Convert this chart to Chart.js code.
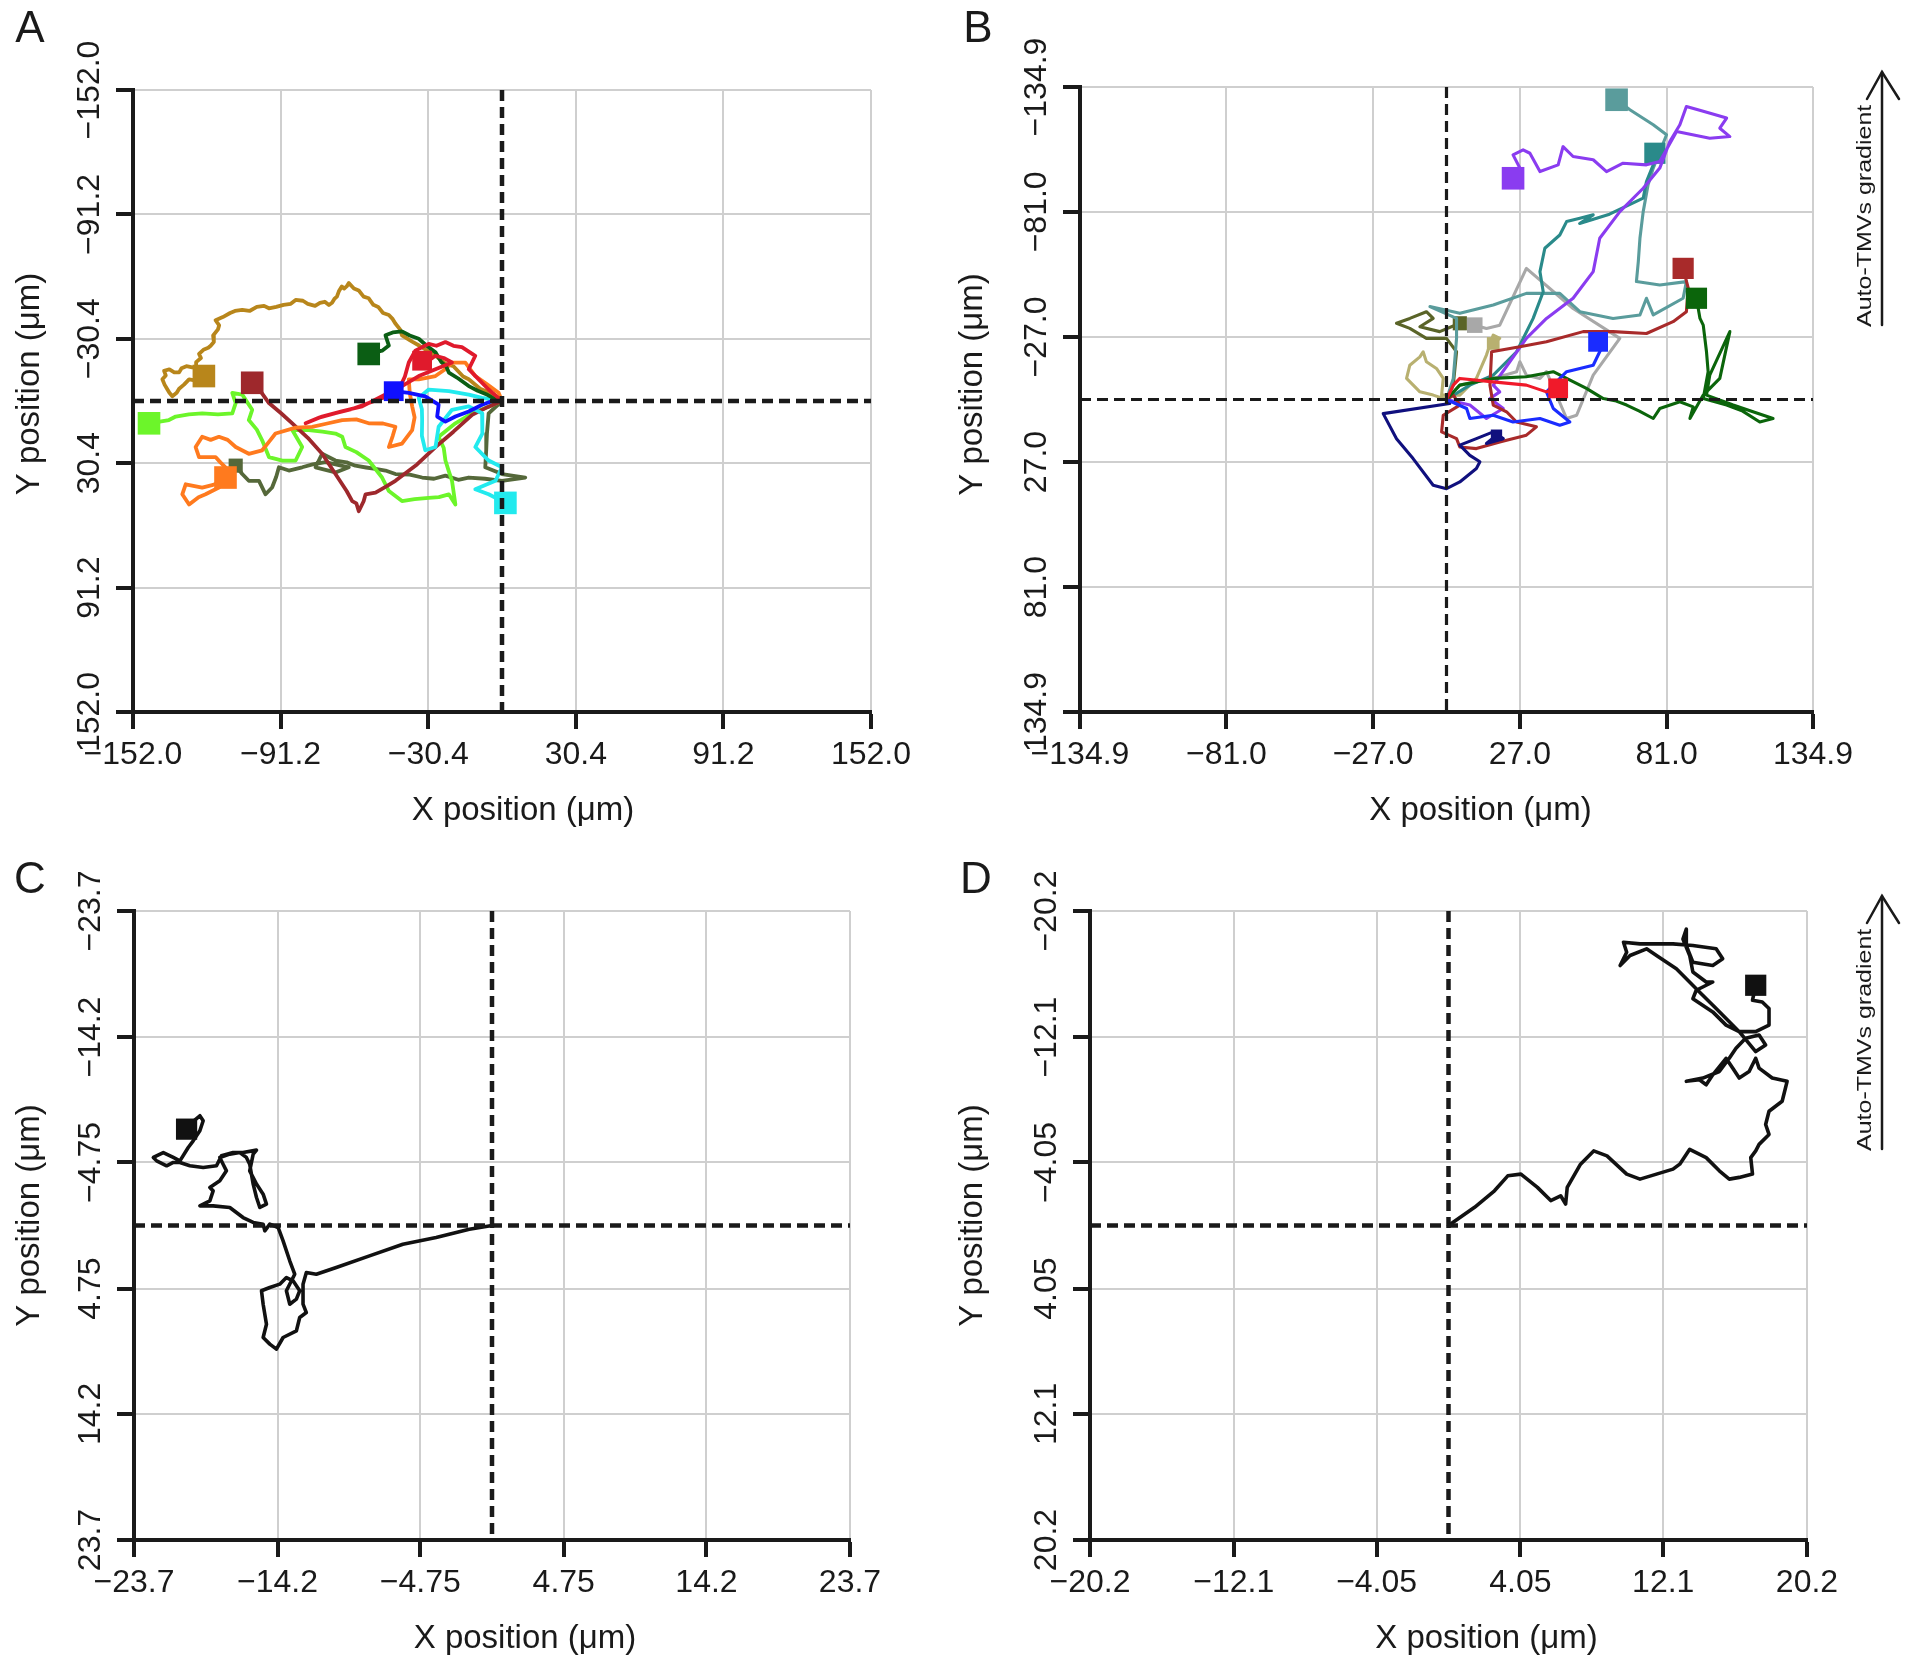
<!DOCTYPE html>
<html><head><meta charset="utf-8">
<script src="https://cdn.jsdelivr.net/npm/chart.js@4.4.1/dist/chart.umd.min.js"></script>
<style>
html,body{margin:0;padding:0;background:#fff;width:1913px;height:1670px;overflow:hidden;}
canvas{position:absolute;}
</style></head><body>
<canvas id="cA" width="940" height="860" style="left:0px;top:0px"></canvas>
<canvas id="cB" width="973" height="860" style="left:940px;top:0px"></canvas>
<canvas id="cC" width="940" height="840" style="left:0px;top:830px"></canvas>
<canvas id="cD" width="973" height="840" style="left:940px;top:830px"></canvas>
<script>
// ---------- tick values / labels ----------
const A_TICKS = [-152, -91.2, -30.4, 30.4, 91.2, 152];
const A_LABELS = ['\u2212152.0', '\u221291.2', '\u221230.4', '30.4', '91.2', '152.0'];
const B_TICKS = [-134.9, -81, -27, 27, 81, 134.9];
const B_LABELS = ['\u2212134.9', '\u221281.0', '\u221227.0', '27.0', '81.0', '134.9'];
const C_TICKS = [-23.7, -14.2, -4.75, 4.75, 14.2, 23.7];
const C_LABELS = ['\u221223.7', '\u221214.2', '\u22124.75', '4.75', '14.2', '23.7'];
const D_TICKS = [-20.2, -12.1, -4.05, 4.05, 12.1, 20.2];
const D_LABELS = ['\u221220.2', '\u221212.1', '\u22124.05', '4.05', '12.1', '20.2'];
const X_TITLE = 'X position (\u03bcm)';
const Y_TITLE = 'Y position (\u03bcm)';
const GRADIENT_LABEL = 'Auto-TMVs gradient';

// ---------- panel A trajectories [x, y] (um) ----------
const A_gold = [[0,0],[-3,-3],[-5,-4],[-9,-6],[-13.7,-10.6],[-16,-12],[-20,-17],[-23,-18],[-27.4,-22.1],[-30,-24],[-34,-27],[-37,-29],[-41.2,-32.1],[-42,-35],[-44,-38],[-45,-40],[-46.6,-42],[-49,-43],[-51,-46],[-53,-47],[-54.9,-50.2],[-57,-51],[-59,-54],[-61,-55],[-63.1,-57.7],[-64,-56],[-65,-55],[-66,-56],[-67.2,-53.6],[-68,-51],[-69,-50],[-70,-48],[-71.3,-46.9],[-73,-48.5],[-75,-48],[-77,-46.5],[-80,-47.5],[-82,-49],[-85,-49.4],[-87,-47.5],[-90,-47],[-93,-46],[-96,-45.3],[-98,-46.5],[-101,-46],[-104,-44],[-107,-44.5],[-110,-44],[-112,-43],[-115,-41],[-118,-39.5],[-116.5,-37],[-117,-35],[-119,-32],[-118.7,-28.8],[-120,-27],[-121,-26],[-123,-25],[-124.8,-23],[-124,-21],[-126,-19],[-126,-17],[-127.6,-16.4],[-130,-17],[-132,-16],[-133,-14],[-135,-14],[-137,-15.5],[-139.2,-14.7],[-138.5,-12.5],[-139.9,-10.6],[-139,-8],[-138,-6],[-137,-4],[-135.8,-2.3],[-134,-4],[-133,-6],[-131,-8],[-128.9,-10.6],[-126,-10],[-122.8,-12.2]];
const A_maroon = [[0,0],[-6,3],[-12.3,6.8],[-20,15],[-27.4,22.5],[-35,31],[-43.9,39],[-48,42],[-52.1,44.8],[-56.2,45.6],[-57,49],[-59,53.9],[-60,50],[-61.7,48.9],[-64,44],[-68.6,35.7],[-74.1,25.8],[-80,18],[-86.4,10.9],[-91,6],[-96,1],[-99,-4],[-102.9,-8.9]];
const A_dkgreen = [[0,0],[-3,-1],[-6,-3],[-10,-5],[-13.7,-7.3],[-18,-11],[-21.9,-13.9],[-23,-17],[-25,-19],[-27.4,-23.8],[-31,-27],[-34.3,-30.4],[-38,-32],[-41.2,-34],[-45,-33.5],[-48,-32.1],[-46.6,-27.1],[-49.4,-24.6],[-54.9,-23]];
const A_crimson = [[0,0],[-2,-2],[-5.5,-5.6],[-9.6,-10.6],[-13.7,-15.5],[-11,-22.1],[-16.5,-26.3],[-20,-27],[-23.3,-28.8],[-27,-27],[-30.2,-27.9],[-35.7,-24.6],[-38.4,-18.8],[-40,-12],[-42.5,-5.6],[-48,-2],[-54.9,1],[-62,4],[-68.6,6],[-75,8],[-80.9,10.9],[-74.1,7.6],[-66,5],[-57.6,2.6],[-50,-2],[-41.2,-7.3],[-34.3,-12.2],[-27.4,-15.5],[-20.6,-18.8],[-24,-21],[-27.4,-22.1],[-30,-20],[-32.9,-19.7]];
const A_orange = [[0,0],[-1.4,-4],[-6,-8],[-11,-12.2],[-15.1,-18.8],[-20.6,-18.8],[-24,-15],[-27.4,-12.2],[-34.3,-10.6],[-38.4,-10.6],[-38,-4],[-37,2.6],[-36,8],[-37,14.2],[-41.2,20.8],[-46.6,22.5],[-45,17],[-43.9,12.6],[-49,11],[-54.9,10.9],[-60,9],[-65.8,9.3],[-72,11],[-78.2,12.6],[-85,13],[-93.3,15.9],[-96,20],[-98.8,24.1],[-104.3,25.8],[-109.7,22.5],[-113,19],[-116.6,17.5],[-120,19],[-123.5,17.5],[-126.2,22.5],[-124.8,27.4],[-118,27.4],[-116,30],[-113.9,32.4],[-115.2,39],[-119,41],[-123.5,42.3],[-130.3,40.7],[-131.7,45.6],[-128.9,50.6],[-125,47],[-122.1,45.6],[-116.6,42.3],[-113.9,37.4]];
const A_blue = [[0,0],[-4,0],[-8.2,1.8],[-13.7,5.1],[-19.2,7.6],[-23.3,10.1],[-26.7,7.6],[-26.1,1.8],[-31.6,-2.3],[-38.4,-4],[-44.6,-4.8]];
const A_cyan = [[0,0],[-8.2,-1.5],[-13.7,-3.1],[-21.9,-4.8],[-30.2,-5.6],[-34.3,-1.5],[-33,4],[-32.9,9.3],[-33,17],[-31.6,24.1],[-27.4,22.5],[-26.1,12.6],[-20.6,4.3],[-13.7,2.6],[-8.2,6],[-8,11],[-8.2,15.9],[-11,22.5],[-5.5,29.1],[0,32.4],[-2.7,39],[-11,43.1],[-5.5,45.6],[1.4,49.8]];
const A_lime = [[0,0],[-6,3],[-12.3,6],[-19.2,10.9],[-26.1,17.5],[-24,23],[-23.3,29.1],[-22,34],[-20.6,39],[-19.2,50.6],[-21.9,45.6],[-26,47],[-30.2,47.3],[-36,48],[-41.2,48.9],[-46.6,44],[-49.4,37.4],[-54.9,29.1],[-60,25],[-64.5,22.5],[-65.8,17.5],[-68.6,15.9],[-74,15],[-79.6,14.2],[-86.4,14.2],[-82.3,22.5],[-85,29.1],[-90.5,29.1],[-96,27.4],[-98.8,19.2],[-101,14],[-104.3,9.3],[-102.9,4.3],[-107,-3.1],[-111.1,-4],[-109.7,1],[-111.1,6],[-117,6.5],[-123.5,6],[-129,6.5],[-134.4,7.6],[-137.2,9.3],[-145.4,10.9]];
const A_olive = [[0,0],[-5.5,6],[-6.2,15.9],[-6.5,24],[-6.9,32.4],[0,35.7],[9.6,37.4],[0,39],[-7,38],[-13.7,37.4],[-18,38.5],[-23.3,36.5],[-28,38],[-32.9,37.4],[-38,36],[-43.9,35.7],[-48,34],[-52.1,33.2],[-56,32.5],[-60.4,31.6],[-64,30],[-68.6,29.1],[-74.1,25.8],[-76.8,32.4],[-68.6,34.9],[-63.1,32.4],[-72.7,29.9],[-78,31],[-82.3,32.4],[-87.8,34],[-91.9,32.4],[-93,37],[-94.7,42.3],[-97.4,45.6],[-100.1,39],[-104.3,39],[-107,35.7],[-109.7,31.6]];

// ---------- panel B trajectories ----------
const B_teal1 = [[0,0],[2.5,-9.1],[3.7,-26.4],[3.7,-35],[-6.1,-40.1],[4.9,-37.2],[17.2,-40.8],[29.4,-45.8],[41.7,-45.8],[49.1,-37.9],[61.3,-35],[71.2,-36.5],[73.6,-43.7],[76.1,-36.5],[87.1,-43.7],[88.3,-50.9],[78.5,-49.4],[69.9,-50.9],[70.6,-59.5],[71.2,-69.6],[72.4,-81.1],[74.2,-92.7],[76.1,-99.9],[81,-114.3],[76.1,-118.6],[67.5,-125.1],[62.6,-129.4]];
const B_teal2 = [[0,0],[8.6,-6.2],[17.2,-10.5],[25.8,-20.6],[31.9,-35],[35.6,-46.5],[34.4,-55.2],[36.2,-65.3],[41.7,-71],[44.2,-76.8],[49.1,-78.2],[54,-79.7],[49,-76],[60,-80],[72.4,-86.9],[73.6,-94.1],[76.1,-101.3],[76.7,-106.3]];
const B_purple = [[0,0],[8.6,2.4],[14.7,8.2],[20.9,3.9],[16,-0.4],[19.6,-3.3],[17.2,-6.2],[23.3,-16.3],[29.4,-26.4],[36.8,-35],[46.6,-43.7],[54,-55.2],[56.4,-69.6],[63.8,-81.1],[72.4,-91.2],[78.5,-99.9],[82.2,-111.4],[85.9,-118.6],[88.3,-126.5],[94.5,-124.4],[103.1,-121.5],[100.6,-117.1],[104.3,-113.5],[96.9,-112.8],[84.7,-115.7],[78.5,-102.7],[73.6,-101.3],[65,-102],[58.9,-98.4],[54,-103.5],[46.6,-104.9],[42.9,-109.2],[41.1,-101.3],[34.4,-98.4],[30.7,-106.3],[28.2,-107.8],[24.5,-105.6],[27,-99.9],[24.5,-95.5]];
const B_darkred = [[0,0],[2.5,-1.9],[4.9,2.4],[-1.2,6.8],[-1.8,14],[3.7,16.9],[4.9,20.5],[11,21.2],[19.6,18.3],[29.4,15.4],[33.1,11.8],[25.8,9.7],[22.1,5.3],[17.2,2.4],[16,-6.2],[16.6,-20.6],[27,-22.8],[36.8,-24.9],[50.3,-29.3],[61.3,-29.3],[73.6,-28.5],[83.4,-33.6],[88.3,-37.9],[89,-48],[87.1,-56.6]];
const B_dkgreen = [[0,0],[4.9,-6.2],[17.2,-9.1],[29.4,-9.8],[39.3,-12],[44.2,-9.1],[51.5,-4.8],[57.7,-0.4],[62,0.5],[66.3,2.4],[71,5],[76.1,8.2],[78.5,3.9],[85.9,1],[90.8,3.2],[89.6,8.2],[94.5,-1.9],[100.6,-9.1],[104.3,-29.3],[96.9,-10.5],[95.7,-1.9],[100,0],[105.5,2.4],[112,5],[120.2,8.2],[115.3,9.7],[109,5],[103.1,2.4],[94.5,-0.4],[96.3,-12],[95.7,-20.6],[94.5,-32.1],[93.3,-35],[92,-43.7]];
const B_blue = [[0,0],[7.4,3.9],[8.6,8.2],[17.2,6.8],[24.5,9.7],[34.4,8.2],[41.7,11.1],[45.4,9.7],[39.3,3.9],[36.8,-3.3],[44.2,-12],[54,-14.8],[56.4,-20.6],[58.9,-26.4],[55.8,-24.9]];
const B_gray = [[0,0],[4.9,-6.2],[17.2,-9.1],[25.8,-12],[27,-16.3],[29.4,-10.5],[34.4,-9.1],[36.8,-12],[44.2,8.2],[47.9,6.8],[54,-10.5],[63.8,-26.4],[46.6,-39.3],[29.4,-56.6],[19.6,-32.1],[14.7,-30.7],[10.4,-32.1]];
const B_olive = [[0,0],[2.5,-6.2],[3.7,-20.6],[0,-26.4],[-7.4,-26.4],[-13.5,-30.7],[-18.4,-32.9],[-13.5,-35],[-7.4,-37.9],[-4.9,-35],[-9.8,-31.4],[-2.5,-29.3],[4.9,-32.9]];
const B_khaki = [[0,0],[-4.9,-1.9],[-9.8,-3.3],[-14.7,-9.1],[-13.5,-14.8],[-9.8,-18.4],[-8.6,-20.6],[-7.4,-16.3],[-3.7,-13.4],[-1.2,-9.1],[-1.8,-1.9],[4.9,-1.9],[11,-9.1],[14.7,-19.2],[17.2,-27.8],[19.6,-26.4],[17.2,-24.2]];
const B_navy = [[0,0],[1.2,1.7],[-23.3,6.1],[-18.4,16.9],[-12.3,25.5],[-4.9,37],[0,38.5],[4.9,35.6],[11,29.8],[12.3,26.9],[8.6,24.1],[4.9,19.7],[11,16.9],[17.2,14],[20.9,16.9],[14.7,19],[18.4,15.4]];
const B_red = [[0,0],[2.5,-6.2],[4.9,-9.1],[17.2,-7.6],[29.4,-6.2],[36.8,-3.3],[41.1,-4.8]];

// ---------- panel C trajectory ----------
const C_path = [[0,0],[-1.5,0.28],[-3.7,0.9],[-5.9,1.41],[-8.11,2.29],[-10.31,3.17],[-11.63,3.67],[-12.29,3.54],[-12.51,4.42],[-12.51,5.93],[-12.29,6.56],[-12.73,6.93],[-12.95,7.94],[-13.83,8.44],[-14.27,9.32],[-14.71,8.94],[-15.15,8.44],[-14.93,7.44],[-15.15,5.93],[-15.26,4.92],[-14.71,4.67],[-14.05,4.42],[-13.61,3.92],[-13.17,4.17],[-12.73,4.92],[-12.95,5.55],[-13.39,5.93],[-13.61,4.92],[-13.06,3.67],[-13.39,2.66],[-13.83,1.16],[-14.16,0.15],[-14.71,-0.1],[-15.04,0.4],[-15.15,-0.1],[-15.81,-0.23],[-16.48,-0.6],[-17.36,-1.36],[-18.46,-1.48],[-19.34,-1.48],[-18.68,-1.86],[-18.46,-2.61],[-18.68,-2.86],[-18.02,-3.37],[-17.58,-4.12],[-17.8,-4.62],[-18.02,-5.13],[-17.36,-5.38],[-16.7,-5.5],[-16.26,-5.13],[-16.04,-4.62],[-15.81,-3.12],[-15.59,-2.11],[-15.37,-1.36],[-14.93,-1.61],[-15.15,-2.36],[-15.59,-3.12],[-16.04,-4.12],[-15.81,-5.38],[-15.59,-5.68],[-16.48,-5.5],[-17.14,-5.5],[-17.91,-5.25],[-18.24,-4.5],[-19.12,-4.37],[-20,-4.5],[-20.66,-4.75],[-21.1,-4.75],[-21.54,-4.5],[-22.2,-4.87],[-22.42,-5.13],[-21.76,-5.5],[-21.1,-5.13],[-20.66,-4.87],[-20.11,-5.88],[-19.78,-6.38],[-19.34,-7.14],[-19.12,-7.89],[-19.34,-8.27],[-20,-7.64],[-20.22,-7.26]];

// ---------- panel D trajectory ----------
const D_path = [[0,0],[1.47,-1.17],[2.59,-2.23],[3.34,-3.19],[4.08,-3.3],[5.01,-2.45],[5.76,-1.6],[6.32,-1.91],[6.6,-1.38],[6.69,-2.45],[7.44,-3.94],[8.18,-4.79],[8.93,-4.47],[10.04,-3.3],[10.79,-2.98],[11.72,-3.3],[12.65,-3.62],[13.03,-3.94],[13.59,-4.89],[14.52,-4.36],[15.26,-3.51],[15.82,-2.98],[16.38,-3.09],[17.13,-3.3],[17.03,-4.36],[17.31,-4.79],[17.5,-5.21],[18.06,-5.85],[17.87,-6.49],[18.06,-7.34],[18.8,-7.98],[19.08,-9.26],[18.24,-9.47],[17.5,-10.11],[17.31,-10.74],[16.94,-9.89],[16.38,-9.47],[16.01,-10.11],[15.64,-10.74],[14.89,-9.68],[14.52,-9.04],[14.14,-9.36],[13.4,-9.26],[14.33,-9.47],[15.26,-9.89],[15.82,-10.74],[16.2,-11.38],[16.74,-12.02],[17.5,-12.23],[17.87,-11.6],[17.31,-11.17],[16.38,-12.45],[15.64,-13.3],[15.08,-13.94],[14.14,-15],[13.4,-15.85],[12.84,-16.49],[11.72,-17.34],[11.16,-17.77],[10.23,-17.34],[9.67,-16.7],[10.04,-17.55],[9.86,-18.19],[10.79,-18.09],[12.65,-18.09],[13.77,-17.98],[15.08,-17.77],[15.45,-17.13],[14.89,-16.7],[13.77,-16.91],[13.4,-17.98],[13.4,-19.04],[13.21,-18.4],[13.59,-17.34],[13.77,-16.28],[14.52,-15.64],[14.89,-15.64],[13.96,-15.11],[13.77,-14.57],[14.89,-13.72],[15.64,-12.87],[16.38,-12.45],[17.31,-12.45],[18.06,-12.87],[18.06,-13.94],[17.68,-14.36],[17.13,-14.47],[17.31,-15.43]];

// ---------- rendering ----------
const FONT = '"Liberation Sans", Arial, Helvetica, sans-serif';
const INK = '#1a1a1a';
Chart.defaults.font.family = FONT;

function series(pts, color, width, sq) {
  return {
    data: pts.map(p => ({x: p[0], y: p[1]})),
    showLine: true, borderColor: color, backgroundColor: color, borderWidth: width,
    tension: 0, pointStyle: 'rect', pointBorderWidth: 0, pointHoverRadius: 0,
    pointRadius: ctx => (ctx.dataIndex === pts.length - 1 ? sq : 0),
    borderJoinStyle: 'round', borderCapStyle: 'round'
  };
}
function zeroLines(lim, w) {
  const base = {showLine: true, borderColor: INK, borderWidth: w, borderDash: [11, 6], pointRadius: 0, tension: 0, borderCapStyle: 'butt'};
  return [
    Object.assign({data: [{x: -lim, y: 0}, {x: lim, y: 0}]}, base),
    Object.assign({data: [{x: 0, y: -lim}, {x: 0, y: lim}]}, base)
  ];
}

function makePanel(id, o) {
  const ticks = o.ticks, labels = o.labels, lim = ticks[ticks.length - 1];
  const grid = {color: '#cfcfcf', lineWidth: 2, tickColor: INK, tickLength: 17, tickWidth: 4};
  const decor = {
    id: 'decor_' + id,
    afterDraw(chart) {
      const ctx = chart.ctx, ca = chart.chartArea, ys = chart.scales.y;
      ctx.save();
      ctx.fillStyle = INK; ctx.strokeStyle = INK;
      ctx.font = '32px ' + FONT;
      ctx.textAlign = 'center'; ctx.textBaseline = 'middle';
      // rotated y tick labels
      ticks.forEach((v, i) => {
        const py = ys.getPixelForValue(v);
        ctx.save(); ctx.translate(ca.left - 43, py); ctx.rotate(-Math.PI / 2);
        ctx.fillText(labels[i], 0, 0); ctx.restore();
      });
      // axis titles
      ctx.font = '33px ' + FONT;
      ctx.fillText(X_TITLE, (ca.left + ca.right) / 2 + o.xtShift, ca.bottom + 99);
      ctx.save(); ctx.translate(o.ytX, (ca.top + ca.bottom) / 2 + o.ytShift); ctx.rotate(-Math.PI / 2);
      ctx.fillText(Y_TITLE, 0, 0); ctx.restore();
      // panel letter
      ctx.font = '44px ' + FONT;
      ctx.fillText(o.letter, o.letterX, o.letterY);
      if (o.arrow) {
        const a = o.arrow;
        ctx.lineWidth = 2.5; ctx.lineCap = 'round'; ctx.lineJoin = 'miter';
        ctx.beginPath(); ctx.moveTo(a.x, a.tail); ctx.lineTo(a.x, a.tip); ctx.stroke();
        ctx.beginPath(); ctx.moveTo(a.x - 15, a.tip + 27); ctx.lineTo(a.x, a.tip); ctx.lineTo(a.x + 17, a.tip + 27); ctx.stroke();
        ctx.save(); ctx.translate(a.textX, a.textBottom); ctx.rotate(-Math.PI / 2); ctx.scale(1, 0.82);
        ctx.font = '25px ' + FONT; ctx.textAlign = 'left'; ctx.textBaseline = 'middle';
        ctx.fillText(GRADIENT_LABEL, 0, 0); ctx.restore();
      }
      ctx.restore();
    }
  };
  return new Chart(document.getElementById(id), {
    type: 'scatter',
    data: {datasets: zeroLines(lim, o.dashW).concat(o.series)},
    options: {
      responsive: false, animation: false, devicePixelRatio: 1, events: [],
      layout: {padding: {left: 0, top: o.top, right: o.right, bottom: 0}},
      plugins: {legend: {display: false}, tooltip: {enabled: false}},
      scales: {
        x: {
          type: 'linear', position: 'bottom', min: -lim, max: lim,
          afterBuildTicks: s => { s.ticks = ticks.map(v => ({value: v})); },
          afterFit: s => { s.height = o.xh; },
          ticks: {autoSkip: false, maxRotation: 0, minRotation: 0, padding: 7, color: INK, font: {size: 32}, callback: (v, i) => labels[i]},
          grid: grid, border: {color: INK, width: 4},
          title: {display: false, text: X_TITLE}
        },
        y: {
          type: 'linear', position: 'left', reverse: true, min: -lim, max: lim,
          afterBuildTicks: s => { s.ticks = ticks.map(v => ({value: v})); },
          afterFit: s => { s.width = o.yw; },
          ticks: {display: false},
          grid: grid, border: {color: INK, width: 4},
          title: {display: false, text: Y_TITLE}
        }
      }
    },
    plugins: [decor]
  });
}

makePanel('cA', {
  ticks: A_TICKS, labels: A_LABELS, top: 90, right: 69, xh: 148, yw: 133, dashW: 4.5,
  xtShift: 21, ytX: 30, ytShift: -17,
  letter: 'A', letterX: 30, letterY: 30,
  series: [
    series(A_blue, '#1010ff', 3.8, 14),
    series(A_crimson, '#e01a2c', 3.8, 14),
    series(A_dkgreen, '#0b5e14', 3.8, 16),
    series(A_cyan, '#22eaee', 3.8, 16),
    series(A_orange, '#ff7a1e', 3.8, 16),
    series(A_maroon, '#9e282c', 3.8, 16),
    series(A_gold, '#b8861b', 3.8, 16),
    series(A_lime, '#6cf52a', 3.8, 16),
    series(A_olive, '#55683a', 3.8, 10)
  ]
});

makePanel('cB', {
  ticks: B_TICKS, labels: B_LABELS, top: 87, right: 100, xh: 148, yw: 140, dashW: 3.2,
  xtShift: 34, ytX: 33, ytShift: -15,
  letter: 'B', letterX: 38, letterY: 30,
  arrow: {x: 942, tip: 72, tail: 325, textX: 925, textBottom: 327},
  series: [
    series(B_red, '#f01a2a', 3.1, 14),
    series(B_blue, '#1a2cff', 3.1, 14),
    series(B_navy, '#10107e', 3.1, 8),
    series(B_dkgreen, '#0b650b', 3.1, 15),
    series(B_darkred, '#a82a2a', 3.1, 15),
    series(B_purple, '#8a3cf0', 3.1, 16),
    series(B_teal2, '#2a8a8a', 3.1, 15),
    series(B_teal1, '#5a9c9c', 3.1, 16),
    series(B_gray, '#a8a8a8', 3.1, 11),
    series(B_khaki, '#b8b070', 3.1, 9),
    series(B_olive, '#5a6428', 3.1, 10)
  ]
});

makePanel('cC', {
  ticks: C_TICKS, labels: C_LABELS, top: 81, right: 90, xh: 130, yw: 134, dashW: 4.5,
  xtShift: 33, ytX: 30, ytShift: -10,
  letter: 'C', letterX: 30, letterY: 51,
  series: [series(C_path, '#111111', 3.6, 15)]
});

makePanel('cD', {
  ticks: D_TICKS, labels: D_LABELS, top: 81, right: 106, xh: 130, yw: 150, dashW: 4.5,
  xtShift: 38, ytX: 33, ytShift: -10,
  letter: 'D', letterX: 36, letterY: 51,
  arrow: {x: 942, tip: 66, tail: 319, textX: 925, textBottom: 321},
  series: [series(D_path, '#111111', 3.6, 15)]
});
</script>
</body></html>
